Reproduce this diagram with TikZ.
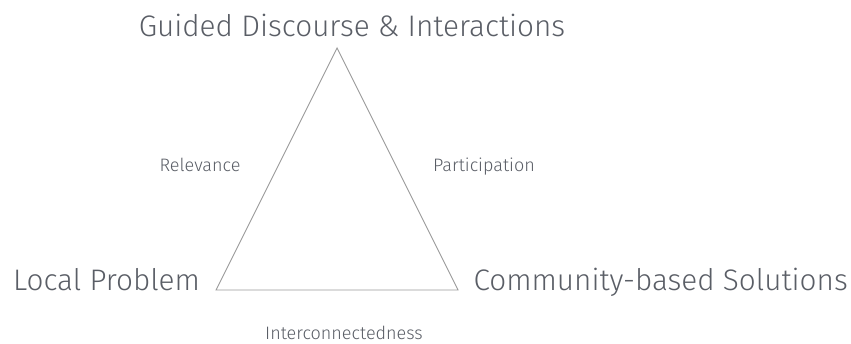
\documentclass[tikz,border=0pt]{standalone}
\usepackage{fontspec}
\setmainfont{Fira Sans}[UprightFont=* Light]
\begin{document}
\begin{tikzpicture}[x=1pt,y=-1pt,
  big/.style={text=txtgray,font=\fontsize{29.7}{32}\selectfont,inner sep=0pt},
  small/.style={text=txtgray,font=\fontsize{18}{20}\selectfont,inner sep=0pt}]
\definecolor{txtgray}{HTML}{5A5E66}
\definecolor{linegray}{HTML}{9A9A9A}
\useasboundingbox[fill=white] (0,0) rectangle (851,343);
\coordinate (A) at (337,48);
\coordinate (B) at (216,290);
\coordinate (C) at (458,290);
\draw[linegray,line width=0.9pt,line join=miter] (A) -- (B) -- (C) -- cycle;
\node[big,anchor=base] (top) at (352,36) {Guided Discourse \& Interactions};
\node[big,anchor=base west] (left) at (13,290) {Local Problem};
\node[big,anchor=base east] (right) at (848,290) {Community-based Solutions};
\node[small,anchor=base] (rel) at (200,171) {Relevance};
\node[small,anchor=base] (par) at (484,171) {Participation};
\node[small,anchor=base] (int) at (344,339) {Interconnectedness};
\end{tikzpicture}
\end{document}
